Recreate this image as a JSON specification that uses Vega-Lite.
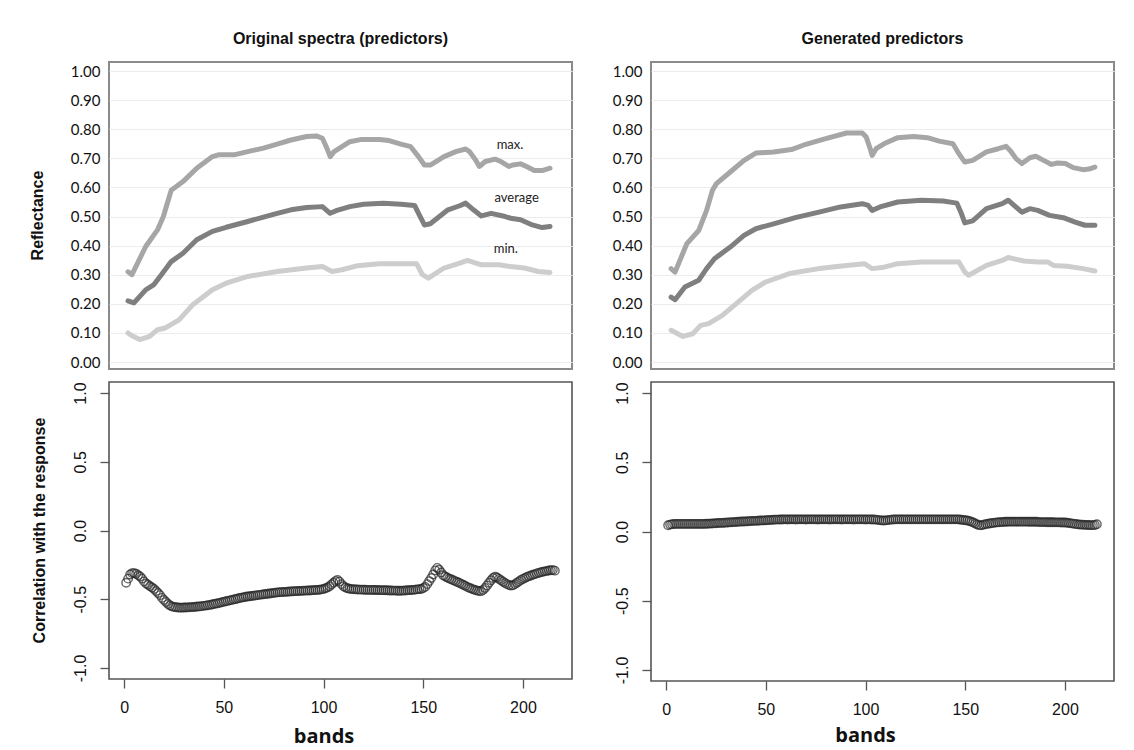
{
"$schema": "https://vega.github.io/schema/vega-lite/v6.json",
"background": "white",
"padding": {"left": 28, "top": 30, "right": 5, "bottom": 5},
"datasets": {
"ol": [
{"s":"max","b":1,"v":0.31},{"s":"max","b":3,"v":0.30},{"s":"max","b":10,"v":0.397},{"s":"max","b":16,"v":0.454},{"s":"max","b":19,"v":0.50},{"s":"max","b":23,"v":0.59},{"s":"max","b":29,"v":0.62},{"s":"max","b":36,"v":0.666},{"s":"max","b":44,"v":0.706},{"s":"max","b":47,"v":0.712},{"s":"max","b":55,"v":0.712},{"s":"max","b":62,"v":0.723},{"s":"max","b":70,"v":0.735},{"s":"max","b":77,"v":0.749},{"s":"max","b":84,"v":0.763},{"s":"max","b":92,"v":0.775},{"s":"max","b":97,"v":0.777},{"s":"max","b":100,"v":0.769},{"s":"max","b":102,"v":0.74},{"s":"max","b":104,"v":0.706},{"s":"max","b":106,"v":0.723},{"s":"max","b":110,"v":0.74},{"s":"max","b":114,"v":0.757},{"s":"max","b":120,"v":0.765},{"s":"max","b":129,"v":0.765},{"s":"max","b":134,"v":0.761},{"s":"max","b":140,"v":0.749},{"s":"max","b":145,"v":0.74},{"s":"max","b":149,"v":0.706},{"s":"max","b":152,"v":0.677},{"s":"max","b":155,"v":0.677},{"s":"max","b":162,"v":0.706},{"s":"max","b":168,"v":0.723},{"s":"max","b":173,"v":0.732},{"s":"max","b":175,"v":0.723},{"s":"max","b":178,"v":0.695},{"s":"max","b":180,"v":0.672},{"s":"max","b":183,"v":0.689},{"s":"max","b":188,"v":0.697},{"s":"max","b":191,"v":0.689},{"s":"max","b":195,"v":0.672},{"s":"max","b":197,"v":0.677},{"s":"max","b":201,"v":0.681},{"s":"max","b":204,"v":0.672},{"s":"max","b":208,"v":0.658},{"s":"max","b":212,"v":0.658},{"s":"max","b":216,"v":0.666},
{"s":"avg","b":1,"v":0.21},{"s":"avg","b":4,"v":0.203},{"s":"avg","b":10,"v":0.248},{"s":"avg","b":14,"v":0.265},{"s":"avg","b":18,"v":0.30},{"s":"avg","b":23,"v":0.345},{"s":"avg","b":29,"v":0.374},{"s":"avg","b":36,"v":0.42},{"s":"avg","b":44,"v":0.449},{"s":"avg","b":51,"v":0.463},{"s":"avg","b":62,"v":0.483},{"s":"avg","b":70,"v":0.498},{"s":"avg","b":77,"v":0.511},{"s":"avg","b":84,"v":0.523},{"s":"avg","b":92,"v":0.531},{"s":"avg","b":100,"v":0.534},{"s":"avg","b":104,"v":0.511},{"s":"avg","b":107,"v":0.52},{"s":"avg","b":114,"v":0.534},{"s":"avg","b":121,"v":0.542},{"s":"avg","b":131,"v":0.546},{"s":"avg","b":140,"v":0.542},{"s":"avg","b":147,"v":0.538},{"s":"avg","b":149,"v":0.511},{"s":"avg","b":152,"v":0.471},{"s":"avg","b":155,"v":0.475},{"s":"avg","b":164,"v":0.523},{"s":"avg","b":170,"v":0.537},{"s":"avg","b":173,"v":0.546},{"s":"avg","b":177,"v":0.523},{"s":"avg","b":181,"v":0.502},{"s":"avg","b":186,"v":0.511},{"s":"avg","b":192,"v":0.502},{"s":"avg","b":196,"v":0.494},{"s":"avg","b":201,"v":0.489},{"s":"avg","b":207,"v":0.471},{"s":"avg","b":212,"v":0.462},{"s":"avg","b":216,"v":0.466},
{"s":"min","b":1,"v":0.10},{"s":"min","b":3,"v":0.09},{"s":"min","b":7,"v":0.077},{"s":"min","b":12,"v":0.088},{"s":"min","b":16,"v":0.111},{"s":"min","b":20,"v":0.117},{"s":"min","b":27,"v":0.145},{"s":"min","b":34,"v":0.197},{"s":"min","b":44,"v":0.248},{"s":"min","b":51,"v":0.271},{"s":"min","b":62,"v":0.294},{"s":"min","b":77,"v":0.311},{"s":"min","b":92,"v":0.323},{"s":"min","b":100,"v":0.328},{"s":"min","b":105,"v":0.311},{"s":"min","b":110,"v":0.317},{"s":"min","b":118,"v":0.331},{"s":"min","b":129,"v":0.338},{"s":"min","b":140,"v":0.338},{"s":"min","b":148,"v":0.338},{"s":"min","b":151,"v":0.30},{"s":"min","b":154,"v":0.288},{"s":"min","b":162,"v":0.323},{"s":"min","b":170,"v":0.34},{"s":"min","b":174,"v":0.349},{"s":"min","b":181,"v":0.334},{"s":"min","b":190,"v":0.334},{"s":"min","b":196,"v":0.328},{"s":"min","b":203,"v":0.323},{"s":"min","b":210,"v":0.311},{"s":"min","b":216,"v":0.308}
],
"gl": [
{"s":"max","b":1,"v":0.321},{"s":"max","b":3,"v":0.309},{"s":"max","b":9,"v":0.407},{"s":"max","b":15,"v":0.452},{"s":"max","b":19,"v":0.521},{"s":"max","b":22,"v":0.59},{"s":"max","b":24,"v":0.613},{"s":"max","b":31,"v":0.653},{"s":"max","b":38,"v":0.693},{"s":"max","b":44,"v":0.718},{"s":"max","b":53,"v":0.722},{"s":"max","b":62,"v":0.73},{"s":"max","b":68,"v":0.745},{"s":"max","b":79,"v":0.767},{"s":"max","b":90,"v":0.787},{"s":"max","b":98,"v":0.787},{"s":"max","b":100,"v":0.773},{"s":"max","b":102,"v":0.733},{"s":"max","b":103,"v":0.71},{"s":"max","b":105,"v":0.733},{"s":"max","b":109,"v":0.75},{"s":"max","b":116,"v":0.771},{"s":"max","b":124,"v":0.775},{"s":"max","b":131,"v":0.771},{"s":"max","b":137,"v":0.759},{"s":"max","b":144,"v":0.75},{"s":"max","b":147,"v":0.716},{"s":"max","b":150,"v":0.687},{"s":"max","b":154,"v":0.693},{"s":"max","b":161,"v":0.722},{"s":"max","b":167,"v":0.733},{"s":"max","b":171,"v":0.741},{"s":"max","b":173,"v":0.727},{"s":"max","b":176,"v":0.699},{"s":"max","b":179,"v":0.682},{"s":"max","b":183,"v":0.702},{"s":"max","b":186,"v":0.707},{"s":"max","b":190,"v":0.693},{"s":"max","b":194,"v":0.679},{"s":"max","b":197,"v":0.684},{"s":"max","b":201,"v":0.682},{"s":"max","b":205,"v":0.668},{"s":"max","b":210,"v":0.661},{"s":"max","b":213,"v":0.663},{"s":"max","b":216,"v":0.67},
{"s":"avg","b":1,"v":0.223},{"s":"avg","b":3,"v":0.214},{"s":"avg","b":8,"v":0.258},{"s":"avg","b":15,"v":0.281},{"s":"avg","b":19,"v":0.321},{"s":"avg","b":23,"v":0.355},{"s":"avg","b":31,"v":0.395},{"s":"avg","b":38,"v":0.435},{"s":"avg","b":44,"v":0.458},{"s":"avg","b":53,"v":0.475},{"s":"avg","b":64,"v":0.496},{"s":"avg","b":76,"v":0.515},{"s":"avg","b":87,"v":0.533},{"s":"avg","b":98,"v":0.544},{"s":"avg","b":101,"v":0.538},{"s":"avg","b":103,"v":0.521},{"s":"avg","b":107,"v":0.533},{"s":"avg","b":116,"v":0.55},{"s":"avg","b":128,"v":0.556},{"s":"avg","b":139,"v":0.553},{"s":"avg","b":146,"v":0.546},{"s":"avg","b":148,"v":0.515},{"s":"avg","b":150,"v":0.478},{"s":"avg","b":154,"v":0.485},{"s":"avg","b":161,"v":0.527},{"s":"avg","b":169,"v":0.544},{"s":"avg","b":172,"v":0.556},{"s":"avg","b":175,"v":0.538},{"s":"avg","b":179,"v":0.515},{"s":"avg","b":183,"v":0.527},{"s":"avg","b":187,"v":0.521},{"s":"avg","b":193,"v":0.504},{"s":"avg","b":200,"v":0.496},{"s":"avg","b":206,"v":0.481},{"s":"avg","b":211,"v":0.47},{"s":"avg","b":216,"v":0.47},
{"s":"min","b":1,"v":0.109},{"s":"min","b":7,"v":0.088},{"s":"min","b":12,"v":0.097},{"s":"min","b":16,"v":0.126},{"s":"min","b":20,"v":0.132},{"s":"min","b":27,"v":0.16},{"s":"min","b":35,"v":0.206},{"s":"min","b":42,"v":0.246},{"s":"min","b":49,"v":0.275},{"s":"min","b":61,"v":0.304},{"s":"min","b":76,"v":0.321},{"s":"min","b":90,"v":0.332},{"s":"min","b":99,"v":0.338},{"s":"min","b":103,"v":0.321},{"s":"min","b":109,"v":0.326},{"s":"min","b":116,"v":0.338},{"s":"min","b":128,"v":0.344},{"s":"min","b":141,"v":0.344},{"s":"min","b":147,"v":0.344},{"s":"min","b":150,"v":0.309},{"s":"min","b":152,"v":0.298},{"s":"min","b":161,"v":0.332},{"s":"min","b":169,"v":0.349},{"s":"min","b":172,"v":0.359},{"s":"min","b":180,"v":0.347},{"s":"min","b":187,"v":0.344},{"s":"min","b":192,"v":0.344},{"s":"min","b":195,"v":0.332},{"s":"min","b":202,"v":0.329},{"s":"min","b":210,"v":0.321},{"s":"min","b":216,"v":0.313}
],
"lab": [
{"t":"max.","b":195.6,"v":0.746},{"t":"average","b":199,"v":0.563},{"t":"min.","b":193.5,"v":0.388}
],
"corr": [
{"b":1,"o":-0.38,"g":0.045},{"b":2,"o":-0.35,"g":0.05},{"b":3,"o":-0.32,"g":0.053},{"b":4,"o":-0.31,"g":0.054},{"b":5,"o":-0.31,"g":0.055},{"b":6,"o":-0.315,"g":0.055},{"b":7,"o":-0.325,"g":0.055},{"b":8,"o":-0.335,"g":0.055},{"b":9,"o":-0.35,"g":0.055},{"b":10,"o":-0.37,"g":0.055},
{"b":11,"o":-0.385,"g":0.055},{"b":12,"o":-0.395,"g":0.055},{"b":13,"o":-0.405,"g":0.055},{"b":14,"o":-0.415,"g":0.055},{"b":15,"o":-0.425,"g":0.055},{"b":16,"o":-0.44,"g":0.055},{"b":17,"o":-0.455,"g":0.055},{"b":18,"o":-0.47,"g":0.055},{"b":19,"o":-0.49,"g":0.055},{"b":20,"o":-0.505,"g":0.056},
{"b":21,"o":-0.52,"g":0.056},{"b":22,"o":-0.535,"g":0.057},{"b":23,"o":-0.545,"g":0.058},{"b":24,"o":-0.552,"g":0.059},{"b":25,"o":-0.556,"g":0.06},{"b":26,"o":-0.558,"g":0.061},{"b":27,"o":-0.56,"g":0.062},{"b":28,"o":-0.561,"g":0.062},{"b":29,"o":-0.561,"g":0.063},{"b":30,"o":-0.56,"g":0.064},
{"b":31,"o":-0.56,"g":0.065},{"b":32,"o":-0.559,"g":0.066},{"b":33,"o":-0.558,"g":0.067},{"b":34,"o":-0.557,"g":0.068},{"b":35,"o":-0.556,"g":0.069},{"b":36,"o":-0.555,"g":0.07},{"b":37,"o":-0.553,"g":0.071},{"b":38,"o":-0.552,"g":0.072},{"b":39,"o":-0.55,"g":0.072},{"b":40,"o":-0.548,"g":0.073},
{"b":41,"o":-0.546,"g":0.074},{"b":42,"o":-0.544,"g":0.075},{"b":43,"o":-0.541,"g":0.076},{"b":44,"o":-0.538,"g":0.077},{"b":45,"o":-0.535,"g":0.077},{"b":46,"o":-0.532,"g":0.078},{"b":47,"o":-0.529,"g":0.079},{"b":48,"o":-0.526,"g":0.08},{"b":49,"o":-0.522,"g":0.08},{"b":50,"o":-0.519,"g":0.081},
{"b":51,"o":-0.515,"g":0.082},{"b":52,"o":-0.512,"g":0.083},{"b":53,"o":-0.508,"g":0.084},{"b":54,"o":-0.505,"g":0.085},{"b":55,"o":-0.501,"g":0.086},{"b":56,"o":-0.498,"g":0.086},{"b":57,"o":-0.495,"g":0.087},{"b":58,"o":-0.491,"g":0.087},{"b":59,"o":-0.488,"g":0.088},{"b":60,"o":-0.485,"g":0.088},
{"b":61,"o":-0.482,"g":0.087},{"b":62,"o":-0.48,"g":0.088},{"b":63,"o":-0.478,"g":0.088},{"b":64,"o":-0.476,"g":0.088},{"b":65,"o":-0.474,"g":0.087},{"b":66,"o":-0.472,"g":0.088},{"b":67,"o":-0.47,"g":0.088},{"b":68,"o":-0.468,"g":0.088},{"b":69,"o":-0.466,"g":0.088},{"b":70,"o":-0.464,"g":0.087},
{"b":71,"o":-0.462,"g":0.088},{"b":72,"o":-0.46,"g":0.088},{"b":73,"o":-0.458,"g":0.088},{"b":74,"o":-0.456,"g":0.088},{"b":75,"o":-0.454,"g":0.088},{"b":76,"o":-0.452,"g":0.087},{"b":77,"o":-0.45,"g":0.088},{"b":78,"o":-0.449,"g":0.088},{"b":79,"o":-0.448,"g":0.088},{"b":80,"o":-0.447,"g":0.088},
{"b":81,"o":-0.446,"g":0.088},{"b":82,"o":-0.445,"g":0.087},{"b":83,"o":-0.444,"g":0.088},{"b":84,"o":-0.443,"g":0.088},{"b":85,"o":-0.442,"g":0.088},{"b":86,"o":-0.441,"g":0.088},{"b":87,"o":-0.44,"g":0.088},{"b":88,"o":-0.44,"g":0.087},{"b":89,"o":-0.439,"g":0.088},{"b":90,"o":-0.438,"g":0.088},
{"b":91,"o":-0.437,"g":0.088},{"b":92,"o":-0.436,"g":0.088},{"b":93,"o":-0.436,"g":0.088},{"b":94,"o":-0.435,"g":0.087},{"b":95,"o":-0.434,"g":0.088},{"b":96,"o":-0.433,"g":0.088},{"b":97,"o":-0.432,"g":0.088},{"b":98,"o":-0.431,"g":0.088},{"b":99,"o":-0.428,"g":0.088},{"b":100,"o":-0.425,"g":0.087},
{"b":101,"o":-0.42,"g":0.088},{"b":102,"o":-0.414,"g":0.088},{"b":103,"o":-0.405,"g":0.087},{"b":104,"o":-0.392,"g":0.087},{"b":105,"o":-0.38,"g":0.086},{"b":106,"o":-0.368,"g":0.084},{"b":107,"o":-0.36,"g":0.082},{"b":108,"o":-0.372,"g":0.08},{"b":109,"o":-0.39,"g":0.079},{"b":110,"o":-0.405,"g":0.08},
{"b":111,"o":-0.415,"g":0.082},{"b":112,"o":-0.42,"g":0.084},{"b":113,"o":-0.424,"g":0.086},{"b":114,"o":-0.426,"g":0.087},{"b":115,"o":-0.427,"g":0.088},{"b":116,"o":-0.428,"g":0.088},{"b":117,"o":-0.429,"g":0.088},{"b":118,"o":-0.43,"g":0.088},{"b":119,"o":-0.43,"g":0.088},{"b":120,"o":-0.431,"g":0.088},
{"b":121,"o":-0.431,"g":0.088},{"b":122,"o":-0.432,"g":0.088},{"b":123,"o":-0.432,"g":0.088},{"b":124,"o":-0.432,"g":0.088},{"b":125,"o":-0.433,"g":0.088},{"b":126,"o":-0.433,"g":0.088},{"b":127,"o":-0.433,"g":0.088},{"b":128,"o":-0.434,"g":0.088},{"b":129,"o":-0.434,"g":0.088},{"b":130,"o":-0.434,"g":0.088},
{"b":131,"o":-0.435,"g":0.088},{"b":132,"o":-0.435,"g":0.088},{"b":133,"o":-0.436,"g":0.088},{"b":134,"o":-0.436,"g":0.088},{"b":135,"o":-0.437,"g":0.088},{"b":136,"o":-0.437,"g":0.088},{"b":137,"o":-0.438,"g":0.088},{"b":138,"o":-0.438,"g":0.088},{"b":139,"o":-0.438,"g":0.088},{"b":140,"o":-0.437,"g":0.088},
{"b":141,"o":-0.436,"g":0.088},{"b":142,"o":-0.435,"g":0.088},{"b":143,"o":-0.434,"g":0.088},{"b":144,"o":-0.433,"g":0.088},{"b":145,"o":-0.432,"g":0.088},{"b":146,"o":-0.43,"g":0.088},{"b":147,"o":-0.428,"g":0.087},{"b":148,"o":-0.426,"g":0.085},{"b":149,"o":-0.425,"g":0.083},{"b":150,"o":-0.418,"g":0.081},
{"b":151,"o":-0.41,"g":0.079},{"b":152,"o":-0.39,"g":0.076},{"b":153,"o":-0.368,"g":0.071},{"b":154,"o":-0.345,"g":0.065},{"b":155,"o":-0.32,"g":0.058},{"b":156,"o":-0.29,"g":0.051},{"b":157,"o":-0.272,"g":0.046},{"b":158,"o":-0.285,"g":0.045},{"b":159,"o":-0.305,"g":0.048},{"b":160,"o":-0.325,"g":0.052},
{"b":161,"o":-0.335,"g":0.055},{"b":162,"o":-0.342,"g":0.058},{"b":163,"o":-0.35,"g":0.06},{"b":164,"o":-0.355,"g":0.062},{"b":165,"o":-0.362,"g":0.064},{"b":166,"o":-0.368,"g":0.066},{"b":167,"o":-0.375,"g":0.067},{"b":168,"o":-0.38,"g":0.068},{"b":169,"o":-0.388,"g":0.069},{"b":170,"o":-0.395,"g":0.07},
{"b":171,"o":-0.402,"g":0.07},{"b":172,"o":-0.41,"g":0.071},{"b":173,"o":-0.416,"g":0.071},{"b":174,"o":-0.422,"g":0.071},{"b":175,"o":-0.428,"g":0.071},{"b":176,"o":-0.433,"g":0.071},{"b":177,"o":-0.437,"g":0.071},{"b":178,"o":-0.44,"g":0.071},{"b":179,"o":-0.441,"g":0.071},{"b":180,"o":-0.432,"g":0.071},
{"b":181,"o":-0.418,"g":0.071},{"b":182,"o":-0.4,"g":0.07},{"b":183,"o":-0.38,"g":0.07},{"b":184,"o":-0.362,"g":0.07},{"b":185,"o":-0.345,"g":0.07},{"b":186,"o":-0.336,"g":0.07},{"b":187,"o":-0.342,"g":0.068},{"b":188,"o":-0.352,"g":0.068},{"b":189,"o":-0.362,"g":0.068},{"b":190,"o":-0.372,"g":0.068},
{"b":191,"o":-0.382,"g":0.067},{"b":192,"o":-0.39,"g":0.067},{"b":193,"o":-0.397,"g":0.067},{"b":194,"o":-0.4,"g":0.067},{"b":195,"o":-0.398,"g":0.066},{"b":196,"o":-0.39,"g":0.066},{"b":197,"o":-0.38,"g":0.066},{"b":198,"o":-0.37,"g":0.065},{"b":199,"o":-0.36,"g":0.065},{"b":200,"o":-0.352,"g":0.065},
{"b":201,"o":-0.345,"g":0.063},{"b":202,"o":-0.338,"g":0.061},{"b":203,"o":-0.332,"g":0.059},{"b":204,"o":-0.327,"g":0.057},{"b":205,"o":-0.322,"g":0.055},{"b":206,"o":-0.317,"g":0.053},{"b":207,"o":-0.312,"g":0.051},{"b":208,"o":-0.308,"g":0.05},{"b":209,"o":-0.304,"g":0.049},{"b":210,"o":-0.3,"g":0.048},
{"b":211,"o":-0.297,"g":0.047},{"b":212,"o":-0.294,"g":0.047},{"b":213,"o":-0.291,"g":0.046},{"b":214,"o":-0.289,"g":0.046},{"b":215,"o":-0.288,"g":0.047},{"b":216,"o":-0.292,"g":0.052}
]
},
"config": {
"view": {"stroke": "#8a8a8a", "strokeWidth": 2},
"axis": {"labelColor": "#111", "titleColor": "#111", "tickColor": "#555", "domain": false, "grid": false, "labelOverlap": false},
"title": {"font": "Liberation Sans", "fontSize": 16, "fontWeight": "bold", "color": "#111", "anchor": "middle", "frame": "group", "offset": 15}
},
"columns": 2,
"bounds": "flush",
"spacing": {"row": 13, "column": 79},
"concat": [
{
"width": 463, "height": 307,
"title": "Original spectra (predictors)",
"encoding": {
  "x": {"field": "b", "type": "quantitative", "scale": {"domain": [-8.7, 227.2], "nice": false, "zero": false}, "axis": null},
  "y": {"field": "v", "type": "quantitative", "scale": {"domain": [-0.024, 1.031], "nice": false, "zero": false},
        "axis": {"values": [0,0.1,0.2,0.3,0.4,0.5,0.6,0.7,0.8,0.9,1], "format": ".2f", "labelOverlap": false, "grid": true, "gridColor": "#ececec", "gridWidth": 1, "ticks": false, "labelFont": "Lato", "labelFontSize": 15, "labelPadding": 9,
                 "title": "Reflectance", "titleFont": "Liberation Sans", "titleFontSize": 16, "titleFontWeight": "bold", "titleX": -72, "titleY": 153, "titleAngle": 270, "titleAlign": "center", "titleBaseline": "middle"}}
},
"layer": [
{"data": {"name": "ol"},
 "mark": {"type": "line", "strokeWidth": 5, "strokeCap": "round", "strokeJoin": "round"},
 "encoding": {
  "color": {"field": "s", "type": "nominal", "scale": {"domain": ["max","avg","min"], "range": ["#a6a6a6","#7f7f7f","#cdcdcd"]}, "legend": null}
 }},
{"data": {"name": "lab"},
 "mark": {"type": "text", "font": "Lato", "fontSize": 13, "color": "#222"},
 "encoding": {
  "text": {"field": "t"}
 }}
]
},
{
"width": 463, "height": 307,
"title": "Generated predictors",
"data": {"name": "gl"},
"mark": {"type": "line", "strokeWidth": 5, "strokeCap": "round", "strokeJoin": "round"},
"encoding": {
 "x": {"field": "b", "type": "quantitative", "scale": {"domain": [-9.2, 225.7], "nice": false, "zero": false}, "axis": null},
 "y": {"field": "v", "type": "quantitative", "scale": {"domain": [-0.024, 1.031], "nice": false, "zero": false},
       "axis": {"values": [0,0.1,0.2,0.3,0.4,0.5,0.6,0.7,0.8,0.9,1], "format": ".2f", "labelOverlap": false, "grid": true, "gridColor": "#ececec", "gridWidth": 1, "ticks": false, "labelFont": "Lato", "labelFontSize": 15, "labelPadding": 9, "title": null}},
 "color": {"field": "s", "type": "nominal", "scale": {"domain": ["max","avg","min"], "range": ["#a6a6a6","#7f7f7f","#cdcdcd"]}, "legend": null}
}
},
{
"width": 463, "height": 297,
"view": {"stroke": "#555", "strokeWidth": 1.6},
"data": {"name": "corr"},
"mark": {"type": "point", "filled": false, "size": 72, "strokeWidth": 1.4, "color": "#262626"},
"encoding": {
 "x": {"field": "b", "type": "quantitative", "scale": {"domain": [-7.6, 224.6], "nice": false, "zero": false},
       "axis": {"values": [0,50,100,150,200], "tickSize": 9, "tickWidth": 1.3, "labelFont": "Liberation Sans", "labelFontSize": 16, "labelPadding": 19, "labelBaseline": "middle",
                "title": "bands", "titleFont": "Open Sans", "titleFontSize": 20, "titleFontWeight": "bold", "titleX": 214.5, "titleY": 57, "titleBaseline": "middle", "titleAlign": "center"}},
 "y": {"field": "o", "type": "quantitative", "scale": {"domain": [-1.08, 1.08], "nice": false, "zero": false},
       "axis": {"values": [-1,-0.5,0,0.5,1], "labelExpr": "datum.value < 0 ? '-' + format(-datum.value, '.1f') : format(datum.value, '.1f')", "tickSize": 9, "tickWidth": 1.3, "labelAngle": 270, "labelAlign": "center", "labelBaseline": "middle", "labelFont": "Liberation Sans", "labelFontSize": 16, "labelPadding": 20,
                "title": "Correlation with the response", "titleFont": "Liberation Sans", "titleFontSize": 16, "titleFontWeight": "bold", "titleX": -70, "titleY": 148, "titleAngle": 270, "titleAlign": "center", "titleBaseline": "middle"}}
}
},
{
"width": 463, "height": 299,
"view": {"stroke": "#555", "strokeWidth": 1.6},
"data": {"name": "corr"},
"mark": {"type": "point", "filled": false, "size": 72, "strokeWidth": 1.4, "color": "#262626"},
"encoding": {
 "x": {"field": "b", "type": "quantitative", "scale": {"domain": [-7.6, 224.6], "nice": false, "zero": false},
       "axis": {"values": [0,50,100,150,200], "tickSize": 9, "tickWidth": 1.3, "labelFont": "Liberation Sans", "labelFontSize": 16, "labelPadding": 19, "labelBaseline": "middle",
                "title": "bands", "titleFont": "Open Sans", "titleFontSize": 20, "titleFontWeight": "bold", "titleX": 214, "titleY": 54, "titleBaseline": "middle", "titleAlign": "center"}},
 "y": {"field": "g", "type": "quantitative", "scale": {"domain": [-1.08, 1.08], "nice": false, "zero": false},
       "axis": {"values": [-1,-0.5,0,0.5,1], "labelExpr": "datum.value < 0 ? '-' + format(-datum.value, '.1f') : format(datum.value, '.1f')", "tickSize": 9, "tickWidth": 1.3, "labelAngle": 270, "labelAlign": "center", "labelBaseline": "middle", "labelFont": "Liberation Sans", "labelFontSize": 16, "labelPadding": 20, "title": null}}
}
}
]
}
